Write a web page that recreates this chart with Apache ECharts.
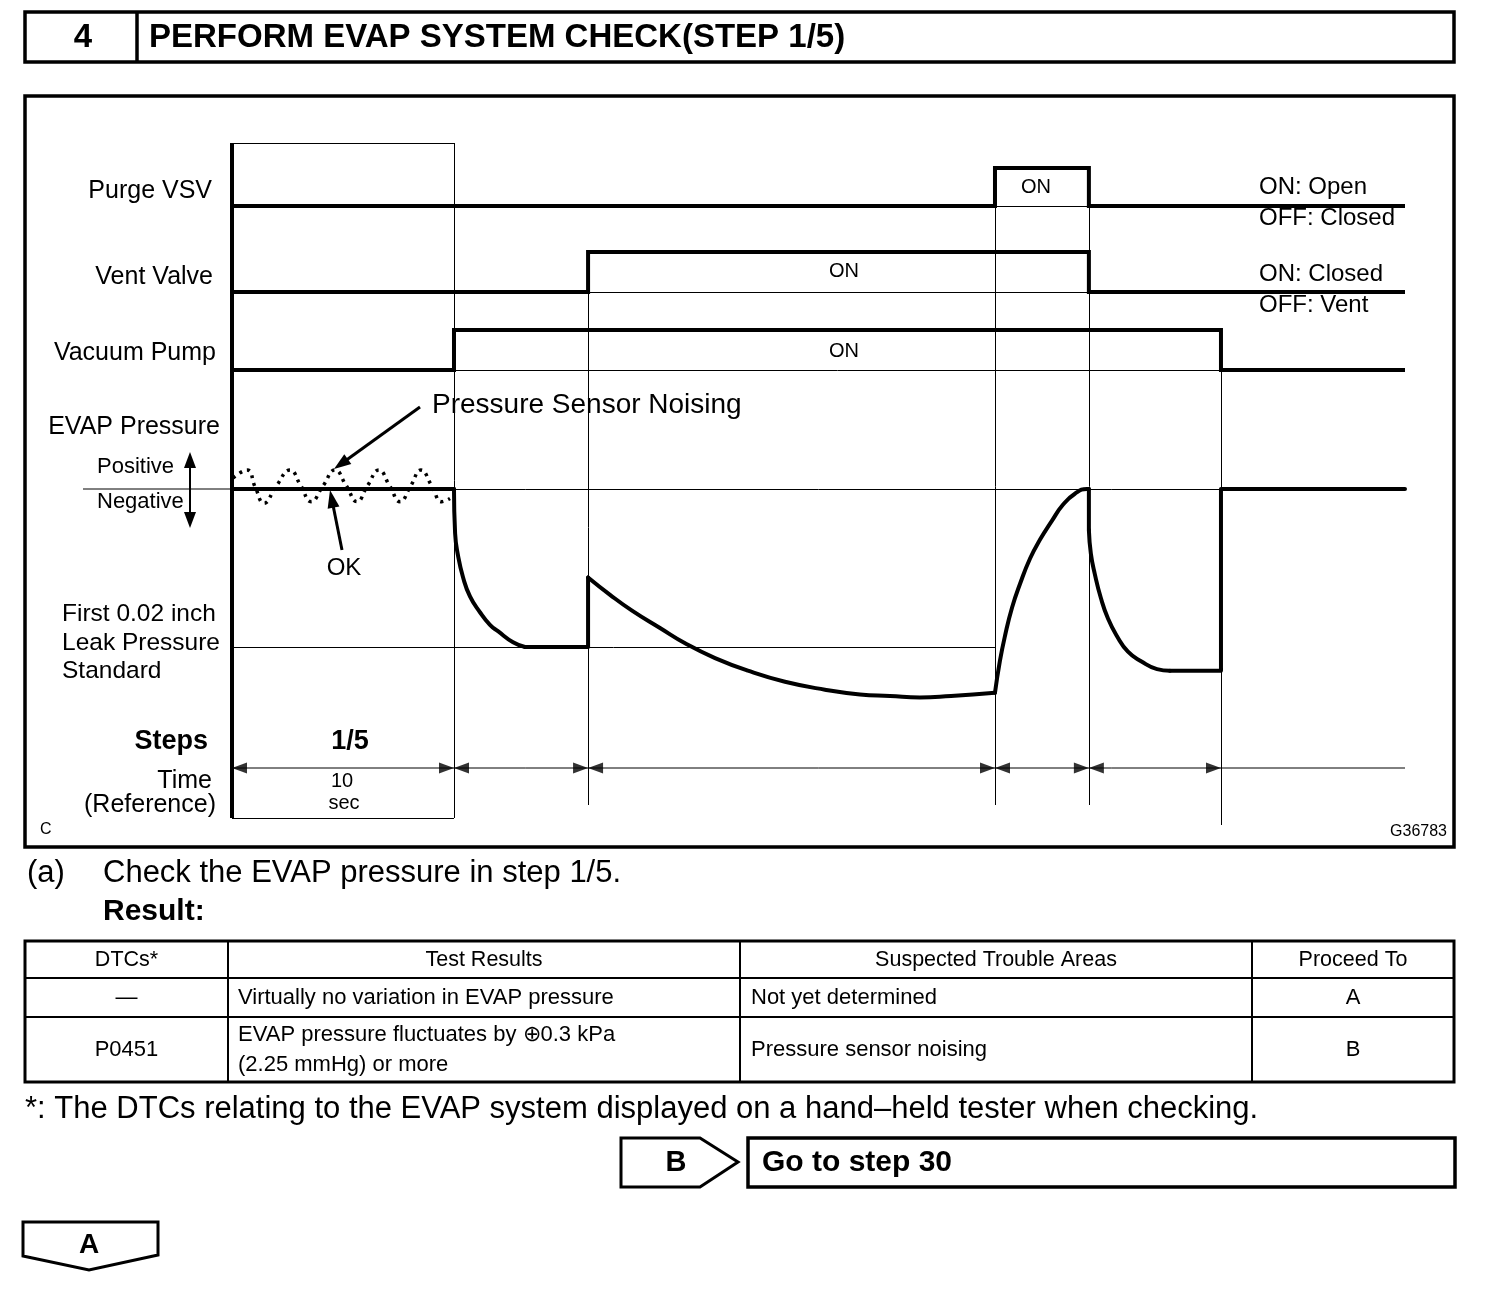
<!DOCTYPE html>
<html><head><meta charset="utf-8">
<script src="https://cdn.jsdelivr.net/npm/echarts/dist/echarts.min.js"></script>
<style>html,body{margin:0;padding:0;background:#fff}#c{width:1504px;height:1290px}</style>
</head><body><div id="c"></div>
<script>
// ---------------- data (time in s, pressure in relative units: 0 = atmosphere, -1 = 0.02 inch leak standard)
const stepBounds = [0, 10, 16.04, 34.37, 38.6, 44.55];
const timeEnd = 52.84;
const purgeVSV   = [[0,0],[34.37,0],[34.37,1],[38.6,1],[38.6,0],[52.84,0]];
const ventValve  = [[0,0],[16.04,0],[16.04,1],[38.6,1],[38.6,0],[52.84,0]];
const vacuumPump = [[0,0],[10,0],[10,1],[44.55,1],[44.55,0],[52.84,0]];
const evapNoise = [[0.05,0.07],[0.68,0.12],[1.05,0.01],[1.44,-0.09],[2.0,0.02],[2.61,0.12],[3.1,0.02],[3.56,-0.08],
  [4.1,0.02],[4.64,0.12],[5.15,0.02],[5.63,-0.08],[6.1,0.02],[6.62,0.12],[7.1,0.02],[7.57,-0.08],[8.05,0.02],
  [8.51,0.12],[9.0,0.02],[9.45,-0.08],[9.82,-0.06]];
const evapFlat1  = [[0,0],[10,0]];
const evapDrop1  = [[10,0],[10.05,-0.28],[10.18,-0.42],[10.41,-0.56],[10.72,-0.68],[11.17,-0.78],[11.62,-0.86],[11.98,-0.90],[12.66,-0.97],[13.2,-1.0]];
const evapFlat2  = [[13.2,-1.0],[16.04,-1.0],[16.04,-0.56]];
const evapDecay  = [[16.04,-0.56],[17.03,-0.67],[18.02,-0.77],[19.28,-0.88],[20.45,-0.98],[21.76,-1.07],[23.24,-1.15],
  [24.91,-1.22],[26.71,-1.27],[28.29,-1.30],[29.64,-1.31],[30.99,-1.32],[32.39,-1.31],[34.37,-1.29]];
const evapRise   = [[34.37,-1.29],[34.59,-1.09],[34.82,-0.93],[35.14,-0.75],[35.5,-0.60],[35.95,-0.44],[36.4,-0.32],
  [36.94,-0.20],[37.43,-0.10],[37.97,-0.03],[38.51,0],[38.6,0]];
const evapFlat3  = [[38.6,0],[38.6,-0.26]];
const evapDrop2  = [[38.6,-0.26],[38.69,-0.41],[38.87,-0.54],[39.14,-0.69],[39.46,-0.82],[39.86,-0.93],[40.36,-1.03],[40.95,-1.09],[41.67,-1.14],[42.25,-1.15]];
const evapFlat4  = [[42.25,-1.15],[44.55,-1.15],[44.55,0],[52.84,0]];

const tableHeader = ['DTCs*', 'Test Results', 'Suspected Trouble Areas', 'Proceed To'];
const tableRows = [
  ['\u2014', ['Virtually no variation in EVAP pressure'], 'Not yet determined', 'A'],
  ['P0451', ['EVAP pressure fluctuates by \u22950.3 kPa', '(2.25 mmHg) or more'], 'Pressure sensor noising', 'B']
];

// ---------------- helpers
const FF = '"Liberation Sans", Arial, Helvetica, sans-serif';
function T(text, x, y, size, align, bold) {
  return {type:'text', x:x, y:y, z:100, silent:true,
    style:{text:text, fill:'#000', font:(bold?'bold ':'')+size+'px '+FF,
      align:align||'left', verticalAlign:'middle', textAlign:align||'left', textVerticalAlign:'middle'}};
}
function L(x1,y1,x2,y2,w){ return {type:'line', z:50, silent:true, shape:{x1:x1,y1:y1,x2:x2,y2:y2}, style:{stroke:'#000', lineWidth:w||1}}; }
function R(x,y,w,h,lw){ return {type:'rect', z:50, silent:true, shape:{x:x,y:y,width:w,height:h}, style:{fill:'none', stroke:'#000', lineWidth:lw}}; }
function PL(points, lw){ return {type:'polygon', z:50, silent:true, shape:{points:points}, style:{fill:'none', stroke:'#000', lineWidth:lw, lineJoin:'miter'}}; }
function ARROW(x1,y1,x2,y2,w,len,hw){
  const dx=x2-x1, dy=y2-y1, d=Math.sqrt(dx*dx+dy*dy), ux=dx/d, uy=dy/d;
  const bx=x2-ux*len, by=y2-uy*len, px=-uy*hw, py=ux*hw;
  return [L(x1,y1,bx+ux*2,by+uy*2,w),
    {type:'polygon', z:60, silent:true, shape:{points:[[x2,y2],[bx+px,by+py],[bx-px,by-py]]}, style:{fill:'#000'}}];
}
function ml(pairs, width){
  return {silent:true, symbol:['none','none'], label:{show:false}, emphasis:{disabled:true}, animation:false,
    lineStyle:{color:'#000', width:width||1, type:'solid'},
    data: pairs.map(p => [{coord:p[0], lineStyle:p[2]?{width:p[2], color:'#000', type:'solid'}:undefined},{coord:p[1]}])};
}

// ---------------- layout
const gl = 232, gr = 1504 - 1405;
const grids = [
  {left:gl, right:gr, top:0, height:1290},   // frame, page-pixel vertical scale
  {left:gl, right:gr, top:168, height:38},   // Purge VSV
  {left:gl, right:gr, top:252, height:40},   // Vent valve
  {left:gl, right:gr, top:330, height:40},   // Vacuum pump
  {left:gl, right:gr, top:410, height:316}   // EVAP pressure (0.5 .. -1.5)
];
const xAxes = grids.map((g,i)=>({gridIndex:i, type:'value', min:0, max:timeEnd, show:false}));
const yAxes = [
  {gridIndex:0, type:'value', min:0, max:1290, inverse:true, show:false},
  {gridIndex:1, type:'value', min:0, max:1, show:false},
  {gridIndex:2, type:'value', min:0, max:1, show:false},
  {gridIndex:3, type:'value', min:0, max:1, show:false},
  {gridIndex:4, type:'value', min:-1.5, max:0.5, show:false}
];

const thick = {color:'#000', width:4, join:'miter', cap:'butt'};
function sig(idx, data, extra){
  return Object.assign({type:'line', xAxisIndex:idx, yAxisIndex:idx, data:data, symbol:'none', showSymbol:false,
    silent:true, animation:false, lineStyle:thick, z:5}, extra||{});
}
function evap(data, smooth){
  return {type:'line', xAxisIndex:4, yAxisIndex:4, data:data, symbol:'none', showSymbol:false, silent:true, animation:false,
    smooth: smooth ? 0.5 : false,
    lineStyle:{color:'#000', width:4, cap:'round', join:'round'}, z:5};
}

const arrowR = 'path://M0,0L14,5L0,10Z';
const arrowL = 'path://M14,0L0,5L14,10Z';
const timeRowY = 768;

const series = [
  {type:'line', xAxisIndex:0, yAxisIndex:0, data:[[0,timeRowY],[timeEnd,timeRowY]], symbol:'none', showSymbol:false,
   silent:true, animation:false, lineStyle:{color:'#000', width:1}, z:2,
   markLine: ml([
     [[stepBounds[0],143],[stepBounds[0],818],4],
     [[stepBounds[0],143],[stepBounds[1],143]],
     [[stepBounds[0],818],[stepBounds[1],818]],
     [[stepBounds[1],143],[stepBounds[1],818]],
     [[stepBounds[2],250],[stepBounds[2],805]],
     [[stepBounds[3],168],[stepBounds[3],805]],
     [[stepBounds[4],168],[stepBounds[4],805]],
     [[stepBounds[5],330],[stepBounds[5],825]]
   ])},
  {type:'scatter', xAxisIndex:0, yAxisIndex:0, silent:true, animation:false, z:6,
   data: stepBounds.slice(1).map(t=>[t,timeRowY]), symbol:arrowR, symbolSize:[15,11], symbolOffset:[-7.5,0], itemStyle:{color:'#000'}},
  {type:'scatter', xAxisIndex:0, yAxisIndex:0, silent:true, animation:false, z:6,
   data: stepBounds.slice(0,5).map(t=>[t,timeRowY]), symbol:arrowL, symbolSize:[15,11], symbolOffset:[7.5,0], itemStyle:{color:'#000'}},
  sig(1, purgeVSV,   {markLine: ml([[[34.37,0],[38.6,0]]])}),
  sig(2, ventValve,  {markLine: ml([[[16.04,0],[38.6,0]]])}),
  sig(3, vacuumPump, {markLine: ml([[[10,0],[44.55,0]]])}),
  {type:'line', xAxisIndex:4, yAxisIndex:4, data:[], silent:true, animation:false,
   markLine: ml([[[0,0],[timeEnd,0]], [[0,-1],[34.37,-1]]])},
  evap(evapFlat1,false), evap(evapDrop1,true), evap(evapFlat2,false), evap(evapDecay,true),
  evap(evapRise,true), evap(evapFlat3,false), evap(evapDrop2,true), evap(evapFlat4,false),
  {type:'line', xAxisIndex:4, yAxisIndex:4, data:evapNoise, symbol:'none', showSymbol:false, silent:true, animation:false,
   smooth:0.5, lineStyle:{color:'#000', width:3.5, type:[3,5], cap:'butt'}, z:7}
];

// ---------------- static graphics (frames, labels, table)
const G = [];
G.push(R(25,12,1429,50,3.5), L(137,12,137,62,3.5));
G.push(T('4', 83, 38, 33, 'center', true), T('PERFORM EVAP SYSTEM CHECK(STEP 1/5)', 149, 38, 33, 'left', true));
G.push(R(25,96,1429,751,3.5));
G.push(T('Purge VSV',212,191,25,'right'), T('Vent Valve',213,277,25,'right'), T('Vacuum Pump',216,353,25,'right'),
  T('EVAP Pressure',220,427,25,'right'), T('Positive',97,467,22,'left'), T('Negative',97,502,22,'left'),
  T('First 0.02 inch',62,614,24.5,'left'), T('Leak Pressure',62,643,24.5,'left'), T('Standard',62,671,24.5,'left'),
  T('Steps',208,742,27,'right',true), T('1/5',350,742,27,'center',true),
  T('Time',212,781,25,'right'), T('(Reference)',216,805,25,'right'),
  T('10',342,781,20,'center'), T('sec',344,803,20,'center'),
  T('C',40,830,16,'left'), T('G36783',1447,832,16,'right'));
G.push(L(83,489,232,489,1));
G.push(L(190,462,190,518,2));
G.push({type:'polygon', z:60, silent:true, shape:{points:[[190,452],[184,468],[196,468]]}, style:{fill:'#000'}});
G.push({type:'polygon', z:60, silent:true, shape:{points:[[190,528],[184,512],[196,512]]}, style:{fill:'#000'}});
G.push(T('ON',1036,187,20,'center'), T('ON',844,271,20,'center'), T('ON',844,351,20,'center'),
  T('ON: Open',1259,187,24,'left'), T('OFF: Closed',1259,218,24,'left'),
  T('ON: Closed',1259,274,24,'left'), T('OFF: Vent',1259,305,24,'left'));
G.push(T('Pressure Sensor Noising',432,405,28,'left'));
G.push.apply(G, ARROW(420,407,334,469,3,17,6));
G.push(T('OK',344,568,24,'center'));
G.push.apply(G, ARROW(342,550,330,490,3,18,6));
G.push(T('(a)',27,873,31,'left'), T('Check the EVAP pressure in step 1/5.',103,873,31,'left'), T('Result:',103,912,30,'left',true));
const colX = [25,228,740,1252,1454], rowY = [941,978,1017,1082];
G.push(R(25,941,1429,141,3));
colX.slice(1,4).forEach(x=>G.push(L(x,941,x,1082,2)));
rowY.slice(1,3).forEach(y=>G.push(L(25,y,1454,y,2)));
tableHeader.forEach((h,i)=>G.push(T(h,(colX[i]+colX[i+1])/2,960,21.5,'center')));
tableRows.forEach((r,ri)=>{
  const y0=rowY[ri+1], y1=rowY[ri+2], cy=(y0+y1)/2;
  G.push(T(r[0],(colX[0]+colX[1])/2,cy,22,'center'));
  if (r[1].length===1) G.push(T(r[1][0],238,cy,22,'left'));
  else { G.push(T(r[1][0],238,cy-15,22,'left')); G.push(T(r[1][1],238,cy+15,22,'left')); }
  G.push(T(r[2],751,cy,22,'left'));
  G.push(T(r[3],(colX[3]+colX[4])/2,cy,22,'center'));
});
G.push(T('*: The DTCs relating to the EVAP system displayed on a hand\u2013held tester when checking.',25,1109,31,'left'));
G.push(PL([[621,1138],[700,1138],[738,1162],[700,1187],[621,1187]],3));
G.push(T('B',676,1163,29,'center',true));
G.push(R(748,1138,707,49,3.5));
G.push(T('Go to step 30',762,1163,30,'left',true));
G.push(PL([[23,1222],[158,1222],[158,1255],[89,1270],[23,1256]],3));
G.push(T('A',89,1245,28,'center',true));

const chart = echarts.init(document.getElementById('c'), null, {renderer:'canvas'});
chart.setOption({
  backgroundColor:'#fff', animation:false,
  grid: grids, xAxis: xAxes, yAxis: yAxes, series: series, graphic: {elements: G}
});
</script></body></html>
